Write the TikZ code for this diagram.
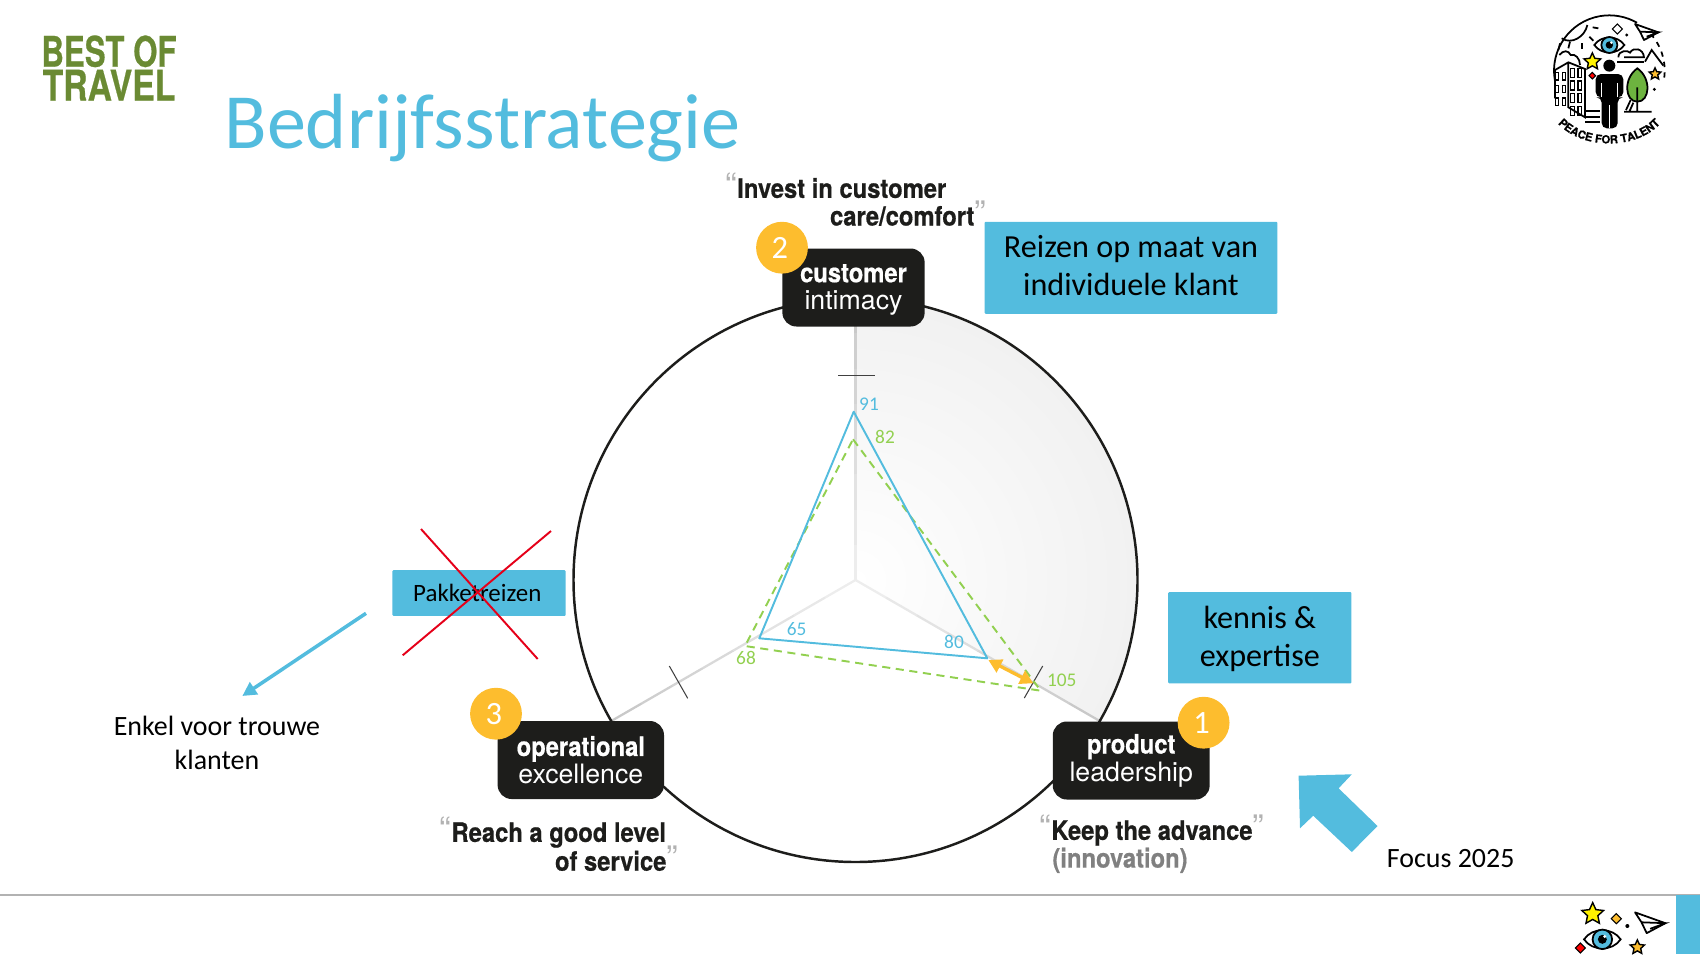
\documentclass[tikz,border=0pt]{standalone}
\usepackage{graphicx}
\usepackage{fontspec}
\setmainfont{Carlito}
\newfontfamily\heros[BoldFeatures={FakeBold=.6}]{TeX Gyre Heros}
\usepackage{xcolor}
\usetikzlibrary{calc, arrows.meta, shapes.geometric, decorations.text}

\definecolor{skyblue}{HTML}{53BCDE}
\definecolor{limegreen}{HTML}{92D050}
\definecolor{amber}{HTML}{FDBD2E}
\definecolor{inkblack}{HTML}{1D1D1B}
\definecolor{olive}{HTML}{6A8A33}
\definecolor{leafgreen}{HTML}{6DB33F}

\newcommand{\condtext}[1]{\scalebox{.89}[1]{\bfseries #1}}
\newcommand{\openq}{\textcolor{black!30}{\scalebox{1.3}{“}}}
\newcommand{\closeq}{\textcolor{black!30}{\scalebox{1.3}{”}}}

\tikzset{
    pillar/.style={fill=inkblack, text=white, rounded corners=8pt, inner sep=0pt, align=center,
        minimum height=44.4pt, font=\heros\fontsize{15.2}{15.7}\selectfont},
    badge/.style={fill=amber, text=white, circle, minimum size=29.5pt, inner sep=0pt,
        font=\fontsize{18.5}{20}\selectfont},
    quoteline/.style={inner sep=0pt, text=inkblack, font=\heros\fontsize{15.2}{16}\selectfont},
    bluebox/.style={fill=skyblue, text=black, rounded corners=.6pt, inner sep=0pt, align=center,
        font=\fontsize{18.3}{21.6}\selectfont},
    plaintext/.style={inner sep=0pt, text=black, align=center, font=\fontsize{15.9}{19.3}\selectfont},
    bluenum/.style={inner sep=0pt, text=skyblue, font=\fontsize{11}{12}\selectfont},
    greennum/.style={inner sep=0pt, text=limegreen, font=\fontsize{11}{12}\selectfont},
    axistick/.style={line width=.6pt, black!75},
    iconline/.style={line width=1pt, black},
    iconstar/.style={star, star points=5, star point ratio=2.1, draw=black, line width=.8pt, inner sep=0pt},
    icondiamond/.style={diamond, draw=black, line width=.6pt, inner sep=0pt, minimum size=6pt},
    eyeicon/.pic={
        \draw[iconline, fill=white] (-45,0) .. controls (-25,-30) and (25,-30) .. (45,0)
            .. controls (25,30) and (-25,30) .. (-45,0) -- cycle;
        \draw[iconline, fill=skyblue] (0,0) circle (24);
        \fill[black] (0,0) circle (11);
        \fill[white] (6,-7) circle (4);
    },
    planeicon/.pic={
        \draw[iconline, line join=round, fill=white] (0,0) -- (70,25) -- (27,48) -- (15,23) -- cycle;
        \draw[iconline] (15,23) -- (70,25) -- (35,38);
    }
}

\begin{document}
\begin{tikzpicture}[x=.02cm, y=-.02cm]
    % y runs downwards, so angles go clockwise on the page
    \useasboundingbox (0,0) rectangle (1700,954);

    % 1. Main coordinates of the chart
    \pgfmathsetmacro{\chartR}{282}
    \coordinate (C) at (855.5,580);
    \coordinate (AxisTop) at ($(C)+(-90:\chartR)$);
    \coordinate (AxisRight) at ($(C)+(30:\chartR)$);

    % 2. Shaded sector and the three axes
    \begin{scope}
        \clip (C) -- (AxisTop) arc[start angle=-90, end angle=30, radius=\chartR] -- cycle;
        \shade[inner color=white, outer color=black!11] (C) circle (2*\chartR);
    \end{scope}
    \foreach \ang in {-90,30,150} {
        \foreach \k in {0,...,7} {
            \pgfmathtruncatemacro{\tone}{7+2*\k}
            \draw[line width=1.3pt, black!\tone] ($(C)+(\ang:\k*\chartR/8)$) -- ($(C)+(\ang:\k*\chartR/8+\chartR/8)$);
        }
    }
    \draw[line width=1.4pt, inkblack] (C) circle (\chartR);

    % 3. Tick marks
    \draw[axistick] (838,375.3) -- (874.7,375.3);
    \draw[axistick] (1042.7,666) -- (1024.3,698);
    \draw[axistick] (669.3,666) -- (687.7,698.3);

    % 4. Score triangles
    \coordinate (BlueTop) at (853.7,411.7);
    \coordinate (BlueLeft) at (759.3,638.3);
    \coordinate (BlueRight) at (987.3,658.3);
    \coordinate (GreenTop) at (853,439.3);
    \coordinate (GreenLeft) at (745,646);
    \coordinate (GreenRight) at (1040.7,690.7);
    \draw[line width=1.1pt, limegreen, dash pattern=on 4.6pt off 3.2pt] (GreenTop) -- (GreenRight) -- (GreenLeft) -- cycle;
    \draw[line width=1.1pt, skyblue, line join=round] (BlueTop) -- (BlueRight) -- (BlueLeft) -- cycle;
    \draw[line width=1.9pt, amber, {Triangle[length=7.5pt,width=8pt]}-{Triangle[length=7.5pt,width=8pt]}] (988.3,660) -- (1033.3,683.3);

    \node[bluenum] (num91) at (869,404.3) {91};
    \node[greennum] (num82) at (885,437.3) {82};
    \node[bluenum] (num65) at (796.7,629.3) {65};
    \node[bluenum] (num80) at (954,641.7) {80};
    \node[greennum] (num68) at (746,658.3) {68};
    \node[greennum] (num105) at (1061.7,680.7) {105};

    % 5. Black pillars with their number
    \node[pillar, minimum width=81pt] (customer) at (853.5,287.5) {\rule{0pt}{13pt}\condtext{customer}\\intimacy};
    \node[pillar, minimum width=89.3pt] (product) at (1131.2,760.5) {\condtext{product}\\leadership};
    \node[pillar, minimum width=94.7pt] (operational) at (580.8,760) {\condtext{operational}\\excellence};
    \node[badge] (badge2) at (782,247.7) {2\kern2.4pt};
    \node[badge] (badge1) at (1203.6,722.7) {1\kern2.4pt};
    \node[badge] (badge3) at (496,713.7) {3\kern2.4pt};

    % 6. Quotes
    \node[quoteline] (investA) at (836,185.7) {\openq\condtext{Invest in customer}};
    \node[quoteline] (investB) at (908,213.4) {\condtext{care/comfort}\closeq};
    \node[quoteline] (keepA) at (1152,830.5) {\openq\condtext{Keep the advance}\closeq};
    \node[quoteline, text=black!50] (keepB) at (1120,860.3) {\condtext{(innovation)}};
    \node[quoteline] (reachA) at (553,832.5) {\openq\condtext{Reach a good level}};
    \node[quoteline] (reachB) at (616.5,858.5) {\condtext{of service}\closeq};

    % 7. Blue notes
    \node[bluebox, minimum width=166.7pt, minimum height=52.4pt] (maatwerk) at (1131,267.8) {Reizen op maat van\\individuele klant\rule[-2.4pt]{0pt}{0pt}};
    \node[bluebox, minimum width=104.3pt, minimum height=52pt] (kennis) at (1259.8,637.8) {\rule{0pt}{13.5pt}kennis \&\\expertise};
    \node[bluebox, minimum width=98.7pt, minimum height=26pt, font=\fontsize{14.2}{16}\selectfont] (pakket) at (479,593) {\hspace*{-2pt}Pakketreizen};
    \draw[line width=1.1pt, red!90!blue] (421,529) -- (537.7,659);
    \draw[line width=1.1pt, red!90!blue] (551,531) -- (402.7,655.3);

    \coordinate (TrouwStart) at (366,613.3);
    \coordinate (TrouwEnd) at (242.3,696);
    \draw[line width=2pt, skyblue, -{Triangle[length=8pt,width=8pt]}] (TrouwStart) -- (TrouwEnd);
    \node[plaintext] (trouw) at (217,742.5) {Enkel voor trouwe\\klanten};

    \fill[skyblue] (1298.6,775.7) -- (1351.8,774.3) -- (1338.6,788.3) -- (1377.5,826) -- (1351.8,852) -- (1313.2,815.7) -- (1300,828.3) -- cycle;
    \node[plaintext] (focus) at (1450.7,858.5) {Focus 2025};

    % 8. Title and logo
    \node[inner sep=0pt, text=skyblue, font=\fontsize{44.5}{50}\selectfont] (title) at (482.5,128.5) {Bedrijfsstrategie};
    \node[inner sep=0pt, text=olive, align=center, font=\heros\bfseries\fontsize{24}{19.3}\selectfont] (logo) at (109,68)
        {\scalebox{.74}[1]{BEST OF}\\\scalebox{.8}[1]{TRAVEL}};

    % 9. Footer
    \draw[line width=1.1pt, black!30] (0,895) -- (1700,895);
    \fill[skyblue] (1676,895) rectangle (1700,954);

    % 10. Round emblem, drawn in units of a third of a pixel
    \begin{scope}[shift={(1500,0)}, scale=1/3]
        \coordinate (E) at (328,212);
        \draw[iconline] ($(E)+(170:166)$) arc[start angle=170, end angle=300, radius=166];
        \draw[iconline, dashed] ($(E)+(318:166)$) arc[start angle=318, end angle=368, radius=166];
        % sun
        \draw[iconline] (185,115) .. controls (215,135) and (255,110) .. (262,75);
        \foreach \xa/\ya/\xb/\yb in {180/130/175/150, 210/125/205/145, 245/130/245/147, 268/110/280/122, 278/82/295/85}
            \draw[iconline] (\xa,\ya) -- (\xb,\yb);
        \pic[transform shape] at (328,135) {eyeicon};
        \pic[transform shape] at (405,72) {planeicon};
        \node[icondiamond, fill=white] (diamondA) at (352,87) {};
        \fill[black] (380,105) circle (5) (463,268) circle (5);
        % clouds and mountain
        \draw[iconline] (355,172) .. controls (355,150) and (385,150) .. (390,158) .. controls (400,140) and (430,145) .. (432,172) -- (372,172);
        \draw[iconline] (352,187) -- (432,187);
        \draw[iconline] (435,185) -- (455,150) -- (490,197);
        \draw[iconline] (178,165) .. controls (190,150) and (205,150) .. (212,165) .. controls (225,160) and (240,175) .. (240,195);
        % stars
        \node[iconstar, fill=yellow, minimum size=10pt] (starA) at (277,185) {};
        \node[iconstar, fill=amber, minimum size=7pt] (starB) at (465,222) {};
        \node[icondiamond, fill=red, minimum size=4pt] (diamondB) at (277,227) {};
        % person
        \fill[black] (328,197) circle (18);
        \fill[black, rounded corners=3pt] (287,292) -- (287,222) -- (370,222) -- (370,292) -- (353,292) -- (353,385) -- (305,385) -- (305,292) -- cycle;
        \draw[white, line width=.5pt] (304,250) -- (304,292) (353,250) -- (353,292) (328,315) -- (328,385);
        % tree
        \draw[iconline, fill=leafgreen] (412,205) .. controls (455,235) and (450,305) .. (412,305) .. controls (374,305) and (369,235) .. (412,205) -- cycle;
        \draw[iconline] (412,262) -- (412,335) (372,335) -- (455,335) (378,330) -- (392,300) (388,335) -- (400,308);
        % building
        \draw[iconline] (165,295) -- (165,210) -- (205,187) -- (255,207) -- (255,352) -- (205,322) -- (205,187);
        \foreach \wy in {0,1,2,3} {
            \foreach \wx in {218,240}
                \draw[line width=.6pt] (\wx-6,\wy*38+205) rectangle (\wx+5,\wy*38+232);
        }
        \foreach \wy in {0,1,2} {
            \foreach \wx in {172,192}
                \draw[line width=.6pt] (\wx-5,\wy*38+218) rectangle (\wx+4,\wy*38+240);
        }
        \draw[iconline] (255,333) -- (300,333) (255,350) -- (300,350) (255,367) -- (300,367);
        % name along the lower rim
        \path[decorate, decoration={text along path, text align=center,
            text={|\heros\bfseries\fontsize{6.4}{7}\selectfont|PEACE FOR TALENT}}]
            (155,345) .. controls (220,459) and (435,459) .. (500,345);
    \end{scope}

    % 11. Small emblem in the footer
    \begin{scope}[shift={(1500,880)}, scale=1/3]
        \pic[transform shape, scale=1.22] at (307,178) {eyeicon};
        \pic[transform shape, scale=1.3] at (405,97) {planeicon};
        \node[iconstar, fill=yellow, minimum size=13pt] (footstarA) at (278,102) {};
        \node[iconstar, fill=amber, minimum size=8.5pt] (footstarB) at (412,202) {};
        \node[icondiamond, fill=amber] (footdiamondA) at (349,116) {};
        \node[icondiamond, fill=red] (footdiamondB) at (241,204) {};
        \fill[black] (382,138) circle (6);
    \end{scope}
\end{tikzpicture}
\end{document}
